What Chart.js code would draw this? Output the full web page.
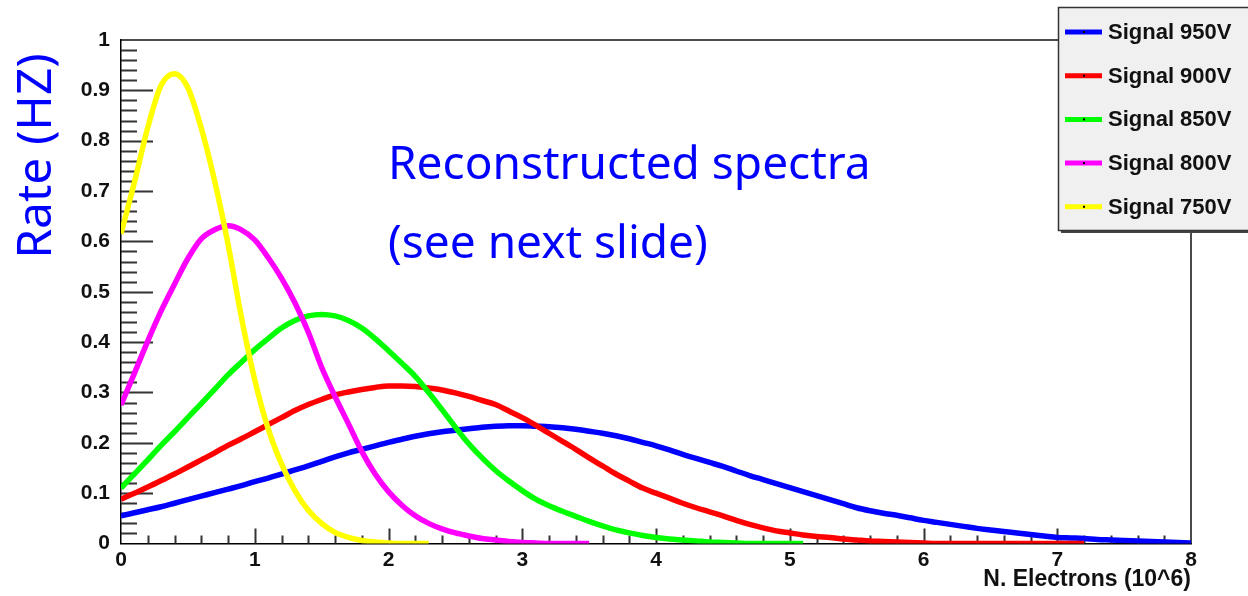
<!DOCTYPE html>
<html>
<head>
<meta charset="utf-8">
<script src="https://cdn.jsdelivr.net/npm/chart.js@4.4.0/dist/chart.umd.min.js"></script>
<style>
  html, body { margin: 0; padding: 0; background: #fff; }
  canvas { display: block; }
</style>
</head>
<body>
<canvas id="spectra" width="1248" height="596"></canvas>
<script>
// bin centres along N. Electrons (10^6)
const xBins = Array.from({ length: 81 }, (_, i) => i / 10);

const seriesLabels = ['Signal 950V', 'Signal 900V', 'Signal 850V', 'Signal 800V', 'Signal 750V'];
const seriesColors = ['#0000ff', '#ff0000', '#00ff00', '#ff00ff', '#ffff00'];

// rate values, one per bin starting at 0
const signal950 = [0.055, 0.061, 0.067, 0.073, 0.08, 0.087, 0.094, 0.101, 0.108, 0.115,
  0.123, 0.13, 0.138, 0.146, 0.154, 0.163, 0.172, 0.18, 0.187, 0.194,
  0.201, 0.207, 0.213, 0.218, 0.222, 0.225, 0.228, 0.231, 0.233, 0.234,
  0.234, 0.233, 0.232, 0.23, 0.227, 0.223, 0.219, 0.214, 0.208, 0.201,
  0.194, 0.186, 0.177, 0.169, 0.161, 0.153, 0.144, 0.135, 0.127, 0.119,
  0.111, 0.103, 0.095, 0.087, 0.079, 0.071, 0.065, 0.06, 0.056, 0.051,
  0.046, 0.042, 0.038, 0.034, 0.03, 0.027, 0.024, 0.021, 0.018, 0.015,
  0.012, 0.011, 0.01, 0.008, 0.007, 0.006, 0.005, 0.004, 0.003, 0.002, 0.001];
const signal900 = [0.088, 0.1, 0.112, 0.125, 0.138, 0.152, 0.166, 0.18, 0.195, 0.208,
  0.222, 0.236, 0.25, 0.264, 0.276, 0.286, 0.295, 0.301, 0.306, 0.31,
  0.313, 0.313, 0.312, 0.309, 0.305, 0.299, 0.292, 0.284, 0.276, 0.263,
  0.25, 0.235, 0.219, 0.203, 0.187, 0.17, 0.154, 0.138, 0.124, 0.11,
  0.1, 0.09, 0.08, 0.071, 0.063, 0.055, 0.046, 0.038, 0.031, 0.025,
  0.021, 0.017, 0.014, 0.012, 0.009, 0.007, 0.005, 0.004, 0.003, 0.002,
  0.001, 0, 0, 0, 0, 0, 0, 0, 0, 0, 0, 0, 0];
const signal850 = [0.11, 0.138, 0.166, 0.195, 0.222, 0.25, 0.278, 0.306, 0.335, 0.36,
  0.385, 0.407, 0.428, 0.443, 0.452, 0.455, 0.452, 0.443, 0.428, 0.407,
  0.383, 0.358, 0.332, 0.3, 0.266, 0.231, 0.198, 0.17, 0.145, 0.124,
  0.105, 0.088, 0.075, 0.064, 0.054, 0.044, 0.035, 0.027, 0.021, 0.016,
  0.012, 0.009, 0.007, 0.005, 0.003, 0.002, 0.001, 0, 0, 0, 0, 0];
const signal800 = [0.275, 0.338, 0.402, 0.462, 0.515, 0.566, 0.605, 0.623, 0.631, 0.623,
  0.603, 0.568, 0.527, 0.478, 0.42, 0.35, 0.292, 0.238, 0.183, 0.138,
  0.103, 0.076, 0.055, 0.04, 0.029, 0.021, 0.015, 0.01, 0.007, 0.004,
  0.002, 0.001, 0, 0, 0, 0];
const signal750 = [0.615, 0.717, 0.826, 0.91, 0.933, 0.905, 0.825, 0.72, 0.595, 0.45,
  0.325, 0.228, 0.158, 0.105, 0.066, 0.04, 0.022, 0.012, 0.006, 0.003,
  0.001, 0, 0, 0];

const seriesValues = [signal950, signal900, signal850, signal800, signal750];

const annotationLines = ['Reconstructed spectra', '(see next slide)'];
const yAxisTitle = 'Rate (HZ)';
const xAxisTitle = 'N. Electrons (10^6)';

const tickFont = { family: '"Liberation Sans", Arial, sans-serif', size: 21, weight: 'bold' };

// ROOT style: ticks drawn inward, plus the closing frame
const frameTicks = {
  id: 'frameTicks',
  beforeDatasetsDraw(chart) {
    const { ctx, chartArea: a, scales: { x, y } } = chart;
    ctx.save();
    ctx.strokeStyle = '#333';
    ctx.lineWidth = 2;
    ctx.beginPath();
    for (let i = 1; i < 50; i++) {
      const py = Math.round(y.getPixelForValue(i / 50)) + 0.5;
      const len = i % 5 === 0 ? 32 : 16;
      ctx.moveTo(a.left, py);
      ctx.lineTo(a.left + len, py);
    }
    for (let i = 1; i < 40; i++) {
      const px = Math.round(x.getPixelForValue(i / 5)) + 0.5;
      const len = i % 5 === 0 ? 15 : 8;
      ctx.moveTo(px, a.bottom);
      ctx.lineTo(px, a.bottom - len);
    }
    ctx.stroke();
    ctx.strokeStyle = '#111';
    ctx.lineWidth = 1.5;
    ctx.beginPath();
    ctx.moveTo(a.left, a.top);
    ctx.lineTo(a.right, a.top);
    ctx.lineTo(a.right, a.bottom);
    ctx.stroke();
    ctx.restore();
  },
  afterDraw(chart) {
    const ctx = chart.ctx;
    ctx.save();

    // legend box
    const bx = 1058, by = 7, bw = 200, bh = 223;
    ctx.fillStyle = '#444';
    ctx.fillRect(bx + 3, by + 3, bw, bh);
    ctx.fillStyle = '#f0f0f0';
    ctx.fillRect(bx, by, bw, bh);
    ctx.strokeStyle = '#333';
    ctx.lineWidth = 1.5;
    ctx.strokeRect(bx + 0.5, by + 0.5, bw, bh);
    ctx.font = 'bold 22px "Liberation Sans", Arial, sans-serif';
    ctx.textBaseline = 'middle';
    chart.data.datasets.forEach((ds, i) => {
      const ry = 32 + i * 43.7;
      ctx.strokeStyle = ds.borderColor;
      ctx.lineWidth = 5;
      ctx.beginPath();
      ctx.moveTo(1065, ry);
      ctx.lineTo(1102, ry);
      ctx.stroke();
      ctx.fillStyle = '#000';
      ctx.fillRect(1083, ry - 1, 2, 2);
      ctx.fillStyle = '#111';
      ctx.fillText(ds.label, 1108, ry + 1);
    });

    // hand-written style notes
    ctx.fillStyle = '#0000ff';
    ctx.font = '46px "Noto Sans", sans-serif';
    ctx.textBaseline = 'alphabetic';
    ctx.fillText(annotationLines[0], 388, 179);
    ctx.fillText(annotationLines[1], 388, 258);

    ctx.translate(37, 156);
    ctx.rotate(-Math.PI / 2);
    ctx.textAlign = 'center';
    ctx.textBaseline = 'middle';
    ctx.font = '48px "Noto Sans", sans-serif';
    ctx.fillText(yAxisTitle, 0, 0);
    ctx.restore();
  }
};

new Chart(document.getElementById('spectra'), {
  type: 'line',
  data: {
    datasets: seriesValues.map((vals, i) => ({
      label: seriesLabels[i],
      data: vals.map((v, j) => ({ x: xBins[j], y: v })),
      borderColor: seriesColors[i],
      backgroundColor: seriesColors[i],
      borderWidth: 5.5,
      pointRadius: 0,
      cubicInterpolationMode: 'monotone',
      fill: false,
      order: 5 - i
    }))
  },
  options: {
    responsive: false,
    animation: false,
    devicePixelRatio: 1,
    layout: { padding: { top: 40, right: 57, left: 0, bottom: 0 } },
    plugins: { legend: { display: false }, tooltip: { enabled: false } },
    scales: {
      x: {
        type: 'linear',
        min: 0,
        max: 8,
        grid: { display: false, drawTicks: false },
        border: { display: true, color: '#000', width: 1.5 },
        ticks: { stepSize: 1, color: '#111', font: tickFont, padding: 4, maxRotation: 0 },
        title: {
          display: true,
          text: xAxisTitle,
          align: 'end',
          color: '#111',
          font: { family: '"Liberation Sans", Arial, sans-serif', size: 23, weight: 'bold' },
          padding: { top: 0, bottom: 3 }
        },
        afterFit(scale) { scale.height = 52.5; }
      },
      y: {
        min: 0,
        max: 1,
        grid: { display: false, drawTicks: false },
        border: { display: true, color: '#000', width: 1.5 },
        ticks: {
          stepSize: 0.1,
          color: '#111',
          font: tickFont,
          padding: 11,
          callback: v => String(+v.toFixed(1))
        },
        afterFit(scale) { scale.width = 121; }
      }
    }
  },
  plugins: [frameTicks]
});
</script>
</body>
</html>
